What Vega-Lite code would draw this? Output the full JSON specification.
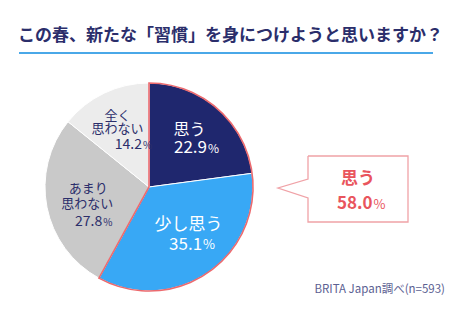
{
  "$schema": "https://vega.github.io/schema/vega-lite/v6.json",
  "width": 470,
  "height": 321,
  "autosize": {"type": "none"},
  "padding": 0,
  "background": "white",
  "config": {"view": {"stroke": null}, "font": "Noto Sans CJK JP"},
  "datasets": {
    "pie": [
      {"rank": 1, "answer": "思う", "pct": 22.9, "line1": "思う", "line2": ""},
      {"rank": 2, "answer": "少し思う", "pct": 35.1, "line1": "少し思う", "line2": ""},
      {"rank": 3, "answer": "あまり思わない", "pct": 27.8, "line1": "あまり", "line2": "思わない"},
      {"rank": 4, "answer": "全く思わない", "pct": 14.2, "line1": "全く", "line2": "思わない"}
    ],
    "group": [
      {"rank": 1, "group": "思う（計）", "pct": 58.0},
      {"rank": 2, "group": "思わない（計）", "pct": 42.0}
    ],
    "callout": [
      {"i": 0, "px": 308, "py": 156},
      {"i": 1, "px": 408, "py": 156},
      {"i": 2, "px": 408, "py": 222},
      {"i": 3, "px": 308, "py": 222},
      {"i": 4, "px": 308, "py": 198},
      {"i": 5, "px": 278, "py": 188},
      {"i": 6, "px": 308, "py": 179},
      {"i": 7, "px": 308, "py": 156}
    ]
  },
  "layer": [
    {
      "data": {"values": [{"t": "この春、新たな「習慣」を身につけようと思いますか？"}]},
      "mark": {"type": "text", "align": "left", "baseline": "middle", "fontSize": 17, "fontWeight": "bold", "color": "#2b2e6b"},
      "encoding": {
        "x": {"datum": 18, "type": "quantitative", "scale": {"domain": [0, 470], "nice": false, "zero": false}, "axis": null},
        "y": {"datum": 36, "type": "quantitative", "scale": {"domain": [0, 321], "nice": false, "zero": false, "reverse": true}, "axis": null},
        "text": {"field": "t"}
      }
    },
    {
      "data": {"values": [{"t": "underline"}]},
      "mark": {"type": "rule", "color": "#4aa8e8", "strokeWidth": 2},
      "encoding": {
        "x": {"datum": 19, "type": "quantitative"},
        "x2": {"datum": 433},
        "y": {"datum": 53, "type": "quantitative"}
      }
    },
    {
      "data": {"name": "pie"},
      "mark": {"type": "arc", "outerRadius": 104, "stroke": "white", "strokeWidth": 1},
      "encoding": {
        "x": {"datum": 149, "type": "quantitative"},
        "y": {"datum": 187, "type": "quantitative"},
        "theta": {"field": "pct", "type": "quantitative", "stack": true},
        "order": {"field": "rank", "type": "quantitative"},
        "color": {
          "field": "answer", "type": "nominal", "legend": null,
          "scale": {"domain": ["思う", "少し思う", "あまり思わない", "全く思わない"], "range": ["#1f276e", "#38a8f5", "#c9c9c9", "#ececec"]}
        }
      }
    },
    {
      "data": {"name": "group"},
      "mark": {"type": "arc", "outerRadius": 104, "filled": false, "stroke": "#ec6a6e", "strokeWidth": 1.6},
      "encoding": {
        "x": {"datum": 149, "type": "quantitative"},
        "y": {"datum": 187, "type": "quantitative"},
        "theta": {"field": "pct", "type": "quantitative", "stack": true},
        "order": {"field": "rank", "type": "quantitative"},
        "detail": {"field": "group"},
        "strokeOpacity": {"condition": {"test": "datum.rank == 2", "value": 0}, "value": 1}
      }
    },
    {
      "data": {"name": "pie"},
      "encoding": {
        "x": {"datum": 149, "type": "quantitative"},
        "y": {"datum": 187, "type": "quantitative"},
        "theta": {"field": "pct", "type": "quantitative", "stack": true},
        "order": {"field": "rank", "type": "quantitative"},
        "detail": {"field": "answer"}
      },
      "layer": [
        {"mark": {"type": "text", "radius": 63, "align": "center", "baseline": "middle", "fontSize": 16, "color": "white", "dx": -1, "dy": -10}, "encoding": {"text": {"condition": {"test": "datum.rank == 1", "field": "line1"}, "value": ""}}},
        {"mark": {"type": "text", "radius": 63, "align": "right", "baseline": "middle", "fontSize": 17, "color": "white", "dx": 16.5, "dy": 8}, "encoding": {"text": {"condition": {"test": "datum.rank == 1", "field": "pct", "type": "quantitative", "format": ".1f"}, "value": ""}}},
        {"mark": {"type": "text", "radius": 63, "align": "left", "baseline": "middle", "fontSize": 12, "color": "white", "dx": 17.5, "dy": 9}, "encoding": {"text": {"condition": {"test": "datum.rank == 1", "value": "%"}, "value": ""}}},

        {"mark": {"type": "text", "radius": 63, "align": "center", "baseline": "middle", "fontSize": 17, "color": "white", "dx": 4, "dy": -14}, "encoding": {"text": {"condition": {"test": "datum.rank == 2", "field": "line1"}, "value": ""}}},
        {"mark": {"type": "text", "radius": 63, "align": "right", "baseline": "middle", "fontSize": 17, "color": "white", "dx": 17.5, "dy": 6}, "encoding": {"text": {"condition": {"test": "datum.rank == 2", "field": "pct", "type": "quantitative", "format": ".1f"}, "value": ""}}},
        {"mark": {"type": "text", "radius": 63, "align": "left", "baseline": "middle", "fontSize": 13, "color": "white", "dx": 18.5, "dy": 6.5}, "encoding": {"text": {"condition": {"test": "datum.rank == 2", "value": "%"}, "value": ""}}},

        {"mark": {"type": "text", "radius": 63, "align": "center", "baseline": "middle", "fontSize": 13, "color": "#2b2e6b", "dx": 1, "dy": -10.5}, "encoding": {"text": {"condition": {"test": "datum.rank == 3", "field": "line1"}, "value": ""}}},
        {"mark": {"type": "text", "radius": 63, "align": "center", "baseline": "middle", "fontSize": 13, "color": "#2b2e6b", "dx": 0, "dy": 4.5}, "encoding": {"text": {"condition": {"test": "datum.rank == 3", "field": "line2"}, "value": ""}}},
        {"mark": {"type": "text", "radius": 63, "align": "right", "baseline": "middle", "fontSize": 14, "color": "#2b2e6b", "dx": 15, "dy": 22.5}, "encoding": {"text": {"condition": {"test": "datum.rank == 3", "field": "pct", "type": "quantitative", "format": ".1f"}, "value": ""}}},
        {"mark": {"type": "text", "radius": 63, "align": "left", "baseline": "middle", "fontSize": 10, "color": "#2b2e6b", "dx": 16, "dy": 23.5}, "encoding": {"text": {"condition": {"test": "datum.rank == 3", "value": "%"}, "value": ""}}},

        {"mark": {"type": "text", "radius": 63, "align": "center", "baseline": "middle", "fontSize": 13, "color": "#2b2e6b", "dx": -4.3, "dy": -14.5}, "encoding": {"text": {"condition": {"test": "datum.rank == 4", "field": "line1"}, "value": ""}}},
        {"mark": {"type": "text", "radius": 63, "align": "center", "baseline": "middle", "fontSize": 13, "color": "#2b2e6b", "dx": -4.3, "dy": -1}, "encoding": {"text": {"condition": {"test": "datum.rank == 4", "field": "line2"}, "value": ""}}},
        {"mark": {"type": "text", "radius": 63, "align": "right", "baseline": "middle", "fontSize": 14, "color": "#2b2e6b", "dx": 20.2, "dy": 14.5}, "encoding": {"text": {"condition": {"test": "datum.rank == 4", "field": "pct", "type": "quantitative", "format": ".1f"}, "value": ""}}},
        {"mark": {"type": "text", "radius": 63, "align": "left", "baseline": "middle", "fontSize": 10, "color": "#2b2e6b", "dx": 21.2, "dy": 15.5}, "encoding": {"text": {"condition": {"test": "datum.rank == 4", "value": "%"}, "value": ""}}}
      ]
    },
    {
      "data": {"name": "callout"},
      "mark": {"type": "line", "color": "#f0a2a7", "strokeWidth": 1.3, "strokeJoin": "miter"},
      "encoding": {
        "x": {"field": "px", "type": "quantitative"},
        "y": {"field": "py", "type": "quantitative"},
        "order": {"field": "i", "type": "quantitative"}
      }
    },
    {
      "data": {"values": [{"t": "思う", "v": 58.0}]},
      "layer": [
        {
          "mark": {"type": "text", "align": "center", "baseline": "middle", "fontSize": 17, "fontWeight": "bold", "color": "#e9555d"},
          "encoding": {"x": {"datum": 358, "type": "quantitative"}, "y": {"datum": 179, "type": "quantitative"}, "text": {"field": "t"}}
        },
        {
          "mark": {"type": "text", "align": "right", "baseline": "middle", "fontSize": 17, "fontWeight": "bold", "color": "#e9555d"},
          "encoding": {"x": {"datum": 372.5, "type": "quantitative"}, "y": {"datum": 203.5, "type": "quantitative"}, "text": {"field": "v", "type": "quantitative", "format": ".1f"}}
        },
        {
          "mark": {"type": "text", "align": "left", "baseline": "middle", "fontSize": 13, "color": "#e9555d"},
          "encoding": {"x": {"datum": 373.5, "type": "quantitative"}, "y": {"datum": 204.5, "type": "quantitative"}, "text": {"value": "%"}}
        }
      ]
    },
    {
      "data": {"values": [{"t": "BRITA Japan調べ(n=593)"}]},
      "mark": {"type": "text", "align": "right", "baseline": "middle", "fontSize": 11.5, "color": "#5c6192"},
      "encoding": {
        "x": {"datum": 445, "type": "quantitative"},
        "y": {"datum": 290, "type": "quantitative"},
        "text": {"field": "t"}
      }
    }
  ]
}
